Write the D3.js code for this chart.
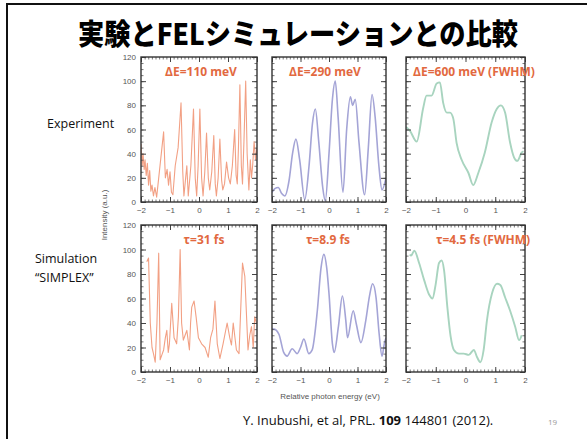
<!DOCTYPE html>
<html>
<head>
<meta charset="utf-8">
<script src="https://cdn.jsdelivr.net/npm/d3@7"></script>
<style>
  body { margin: 0; background: #fff; }
  svg { display: block; }
  .tick text { font-family: "Liberation Sans", Arial, sans-serif; font-size: 8px; fill: #555; }
</style>
</head>
<body>
<div id="chart"></div>
<script>
// Axis tick labels
const xTickLabels = [-2, -1, 0, 1, 2];
const yTickLabels = [0, 20, 40, 60, 80, 100, 120];

// Panel annotations
const expLabels = ['\u0394E=110 meV', '\u0394E=290 meV', '\u0394E=600 meV (FWHM)'];
const simLabels = ['\u03c4=31 fs', '\u03c4=8.9 fs', '\u03c4=4.5 fs (FWHM)'];

// Experiment, dE = 110 meV
const exp110X = [-2.0, -1.96, -1.93, -1.89, -1.86, -1.82, -1.78, -1.74, -1.7, -1.66, -1.62, -1.57, -1.52, -1.46, -1.38, -1.3, -1.22, -1.16, -1.1, -1.05, -1.0, -0.95, -0.9, -0.82, -0.72, -0.62, -0.56, -0.52, -0.46, -0.42, -0.37, -0.28, -0.19, -0.13, -0.08, -0.03, 0.03, 0.09, 0.14, 0.2, 0.26, 0.32, 0.37, 0.44, 0.51, 0.56, 0.6, 0.66, 0.72, 0.78, 0.82, 0.88, 0.95, 1.02, 1.08, 1.15, 1.23, 1.28, 1.32, 1.36, 1.41, 1.46, 1.5, 1.55, 1.61, 1.66, 1.72, 1.77, 1.81, 1.85, 1.9, 1.95, 2.0];
const exp110Y = [48, 30, 40, 27, 35, 22, 32, 14, 26, 9, 14, 5, 12, 4, 22, 40, 58, 20, 27, 14, 25, 8, 6, 30, 45, 82, 25, 5, 20, 30, 5, 30, 77, 20, 5, 30, 77, 20, 5, 25, 57, 20, 10, 25, 55, 15, 5, 20, 52, 18, 10, 15, 33, 20, 15, 30, 60, 22, 15, 45, 97, 30, 15, 50, 100, 40, 10, 35, 20, 30, 50, 35, 45];

// Experiment, dE = 290 meV
const exp290X = [-2.0, -1.9, -1.78, -1.66, -1.55, -1.4, -1.28, -1.16, -1.03, -0.85, -0.7, -0.58, -0.48, -0.36, -0.22, -0.13, 0.0, 0.12, 0.22, 0.32, 0.49, 0.62, 0.75, 0.83, 0.92, 1.05, 1.25, 1.38, 1.51, 1.62, 1.75, 1.86, 2.0];
const exp290Y = [8, 11, 12, 7, 5, 18, 40, 52, 35, 2, 30, 65, 77, 50, 12, 1, 40, 85, 100, 70, 8, 60, 87, 80, 85, 50, 6, 45, 89, 70, 30, 10, 20];

// Experiment, dE = 600 meV
const exp600X = [-2.0, -1.87, -1.64, -1.42, -1.31, -1.14, -0.97, -0.86, -0.75, -0.63, -0.52, -0.41, -0.3, -0.13, 0.1, 0.26, 0.43, 0.65, 0.88, 1.05, 1.19, 1.33, 1.5, 1.63, 1.74, 1.89, 1.95];
const exp600Y = [62, 59, 50, 78, 88, 88, 98, 99, 82, 74, 74, 69, 49, 35, 24, 14, 24, 41, 66, 77, 80, 74, 49, 37, 34, 41, 42];

// Simulation, tau = 31 fs
const sim31X = [-1.8, -1.74, -1.68, -1.62, -1.57, -1.51, -1.45, -1.39, -1.34, -1.28, -1.22, -1.16, -1.11, -1.06, -1.02, -0.94, -0.86, -0.77, -0.71, -0.65, -0.6, -0.54, -0.48, -0.42, -0.33, -0.29, -0.25, -0.17, -0.1, -0.02, 0.09, 0.21, 0.32, 0.4, 0.48, 0.55, 0.63, 0.72, 0.83, 0.97, 1.06, 1.12, 1.18, 1.29, 1.38, 1.5, 1.58, 1.69, 1.75, 1.81, 1.87, 1.92, 1.98];
const sim31Y = [90, 93, 40, 20, 15, 8, 40, 97, 10, 14, 18, 28, 34, 16, 23, 56, 28, 23, 45, 100, 40, 26, 30, 34, 18, 40, 53, 58, 45, 28, 23, 20, 12, 28, 35, 58, 23, 11, 23, 40, 28, 22, 40, 18, 15, 89, 78, 18, 30, 37, 20, 45, 40];

// Simulation, tau = 8.9 fs
const sim89X = [-2.0, -1.94, -1.76, -1.59, -1.47, -1.29, -1.12, -1.0, -0.88, -0.71, -0.59, -0.41, -0.28, -0.18, -0.08, 0.0, 0.12, 0.18, 0.33, 0.47, 0.59, 0.65, 0.85, 0.96, 1.12, 1.29, 1.42, 1.53, 1.65, 1.76, 1.86, 1.94, 2.0];
const sim89Y = [35, 35, 31, 16, 13, 19, 15, 20, 27, 15, 18, 50, 85, 96, 85, 64, 23, 16, 37, 62, 42, 28, 50, 39, 24, 42, 62, 72, 61, 31, 13, 23, 28];

// Simulation, tau = 4.5 fs
const sim45X = [-1.87, -1.83, -1.72, -1.56, -1.39, -1.22, -1.11, -1.0, -0.89, -0.8, -0.72, -0.61, -0.5, -0.39, -0.22, -0.06, 0.11, 0.28, 0.39, 0.5, 0.61, 0.72, 0.89, 1.06, 1.17, 1.33, 1.5, 1.67, 1.8, 1.89];
const sim45Y = [96, 95, 99, 89, 75, 63, 60, 72, 89, 91, 83, 53, 29, 18, 15, 15, 14, 18, 12, 8, 18, 42, 64, 72, 71, 61, 50, 37, 26, 30];

const panels = [
    { row: 0, col: 0, xs: exp110X, ys: exp110Y, color: '#f2a084', width: 1.1, label: expLabels[0], lx: 201 },
    { row: 0, col: 1, xs: exp290X, ys: exp290Y, color: '#a4a4d6', width: 1.6, label: expLabels[1], lx: 325 },
    { row: 0, col: 2, xs: exp600X, ys: exp600Y, color: '#a8d4bf', width: 1.9, label: expLabels[2], lx: 474 },
    { row: 1, col: 0, xs: sim31X, ys: sim31Y, color: '#f2a084', width: 1.1, label: simLabels[0], lx: 204 },
    { row: 1, col: 1, xs: sim89X, ys: sim89Y, color: '#a4a4d6', width: 1.6, label: simLabels[1], lx: 328 },
    { row: 1, col: 2, xs: sim45X, ys: sim45Y, color: '#a8d4bf', width: 1.9, label: simLabels[2], lx: 483 }
];

// Layout
const W = 587, H = 439;
const colLeft = [141, 272, 406];
const colWidth = [116, 114, 119];
const rowTop = [57, 225];
const rowHeight = [145, 147];
const labelY = [76, 244];

const svg = d3.select('#chart')
    .append('svg')
    .attr('width', W)
    .attr('height', H);

// Slide border
svg.append('line')
    .attr('x1', 7).attr('x2', W).attr('y1', 4).attr('y2', 4)
    .attr('stroke', '#111').attr('stroke-width', 2);
svg.append('line')
    .attr('x1', 7).attr('x2', 7).attr('y1', 3).attr('y2', H)
    .attr('stroke', '#111').attr('stroke-width', 2);

// Title
svg.append('text')
    .attr('x', 298)
    .attr('y', 45)
    .attr('text-anchor', 'middle')
    .attr('textLength', 440)
    .attr('lengthAdjust', 'spacingAndGlyphs')
    .style('font-family', '"Noto Sans CJK JP", sans-serif')
    .style('font-size', '29px')
    .style('font-weight', '900')
    .style('fill', '#000')
    .text('実験とFELシミュレーションとの比較');

// Row labels
const sideFont = '"Open Sans", "Noto Sans", sans-serif';
svg.append('text').attr('x', 47).attr('y', 128)
    .style('font-family', sideFont).style('font-size', '12.5px').style('fill', '#111')
    .text('Experiment');
svg.append('text').attr('x', 35).attr('y', 263)
    .style('font-family', sideFont).style('font-size', '12.5px').style('fill', '#111')
    .text('Simulation');
svg.append('text').attr('x', 35).attr('y', 282)
    .style('font-family', sideFont).style('font-size', '12.5px').style('fill', '#111')
    .text('\u201cSIMPLEX\u201d');

const minorX = d3.range(-2, 2.0001, 0.125);
const minorY = d3.range(0, 120.001, 5);

panels.forEach((p, i) => {
    const left = colLeft[p.col], top = rowTop[p.row];
    const w = colWidth[p.col], h = rowHeight[p.row];

    const x = d3.scaleLinear().domain([-2, 2]).range([0, w]);
    const y = d3.scaleLinear().domain([0, 120]).range([h, 0]);

    const g = svg.append('g').attr('transform', `translate(${left},${top})`);

    g.append('clipPath').attr('id', 'clip' + i)
        .append('rect').attr('width', w).attr('height', h);

    // Data line
    const pts = p.xs.map((v, k) => [v, p.ys[k]]);
    const line = d3.line()
        .x(d => x(d[0]))
        .y(d => y(d[1]))
        .curve(p.col === 0 ? d3.curveLinear : d3.curveMonotoneX);

    g.append('path')
        .datum(pts)
        .attr('clip-path', `url(#clip${i})`)
        .attr('fill', 'none')
        .attr('stroke', p.color)
        .attr('stroke-width', p.width)
        .attr('stroke-linejoin', 'round')
        .attr('d', line);

    // Minor ticks on all sides (inward)
    const minorStyle = sel => sel.selectAll('.tick line').attr('stroke', '#555').attr('stroke-width', 0.8);
    g.append('g').attr('transform', `translate(0,${h})`)
        .call(d3.axisBottom(x).tickValues(minorX).tickSize(-2.5).tickFormat(''))
        .call(minorStyle).call(s => s.select('.domain').remove());
    g.append('g')
        .call(d3.axisTop(x).tickValues(minorX).tickSize(-2.5).tickFormat(''))
        .call(minorStyle).call(s => s.select('.domain').remove());
    g.append('g')
        .call(d3.axisLeft(y).tickValues(minorY).tickSize(-2.5).tickFormat(''))
        .call(minorStyle).call(s => s.select('.domain').remove());
    g.append('g').attr('transform', `translate(${w},0)`)
        .call(d3.axisRight(y).tickValues(minorY).tickSize(-2.5).tickFormat(''))
        .call(minorStyle).call(s => s.select('.domain').remove());

    // Major ticks with labels
    const xAxis = g.append('g').attr('transform', `translate(0,${h})`)
        .call(d3.axisBottom(x).tickValues(xTickLabels).tickSizeInner(-5).tickSizeOuter(0).tickPadding(5).tickFormat(d3.format('d')));
    xAxis.select('.domain').remove();
    xAxis.selectAll('.tick line').attr('stroke', '#444');

    g.append('g')
        .call(d3.axisTop(x).tickValues(xTickLabels).tickSize(-5).tickFormat(''))
        .call(s => s.select('.domain').remove())
        .selectAll('.tick line').attr('stroke', '#444');

    const yAxis = g.append('g')
        .call(d3.axisLeft(y).tickValues(yTickLabels).tickSizeInner(-5).tickSizeOuter(0).tickPadding(p.col === 0 ? 5 : 0)
            .tickFormat(p.col === 0 ? d3.format('d') : ''));
    yAxis.select('.domain').remove();
    yAxis.selectAll('.tick line').attr('stroke', '#444');

    g.append('g').attr('transform', `translate(${w},0)`)
        .call(d3.axisRight(y).tickValues(yTickLabels).tickSize(-5).tickFormat(''))
        .call(s => s.select('.domain').remove())
        .selectAll('.tick line').attr('stroke', '#444');

    // Frame
    g.append('rect')
        .attr('width', w).attr('height', h)
        .attr('fill', 'none')
        .attr('stroke', '#333')
        .attr('stroke-width', 1.4);

    // Panel annotation
    svg.append('text')
        .attr('x', p.lx)
        .attr('y', labelY[p.row])
        .attr('text-anchor', 'middle')
        .style('font-family', sideFont)
        .style('font-size', '12px')
        .style('font-weight', '700')
        .style('fill', '#e2693f')
        .text(p.label);
});

// Axis titles
svg.append('text')
    .attr('transform', 'translate(107,215) rotate(-90)')
    .attr('text-anchor', 'middle')
    .style('font-family', '"Liberation Sans", Arial, sans-serif')
    .style('font-size', '8px')
    .style('fill', '#555')
    .text('Intensity (a.u.)');

svg.append('text')
    .attr('x', 330)
    .attr('y', 399)
    .attr('text-anchor', 'middle')
    .style('font-family', '"Liberation Sans", Arial, sans-serif')
    .style('font-size', '8px')
    .style('fill', '#555')
    .text('Relative photon energy (eV)');

// Citation
const cite = svg.append('text')
    .attr('x', 243)
    .attr('y', 425)
    .style('font-family', sideFont)
    .style('font-size', '13px')
    .style('fill', '#111');
cite.append('tspan').text('Y. Inubushi, et al, PRL. ');
cite.append('tspan').style('font-weight', '700').text('109');
cite.append('tspan').text(' 144801 (2012).');

svg.append('text')
    .attr('x', 548)
    .attr('y', 425)
    .style('font-family', sideFont)
    .style('font-size', '8px')
    .style('fill', '#999')
    .text('19');
</script>
</body>
</html>
